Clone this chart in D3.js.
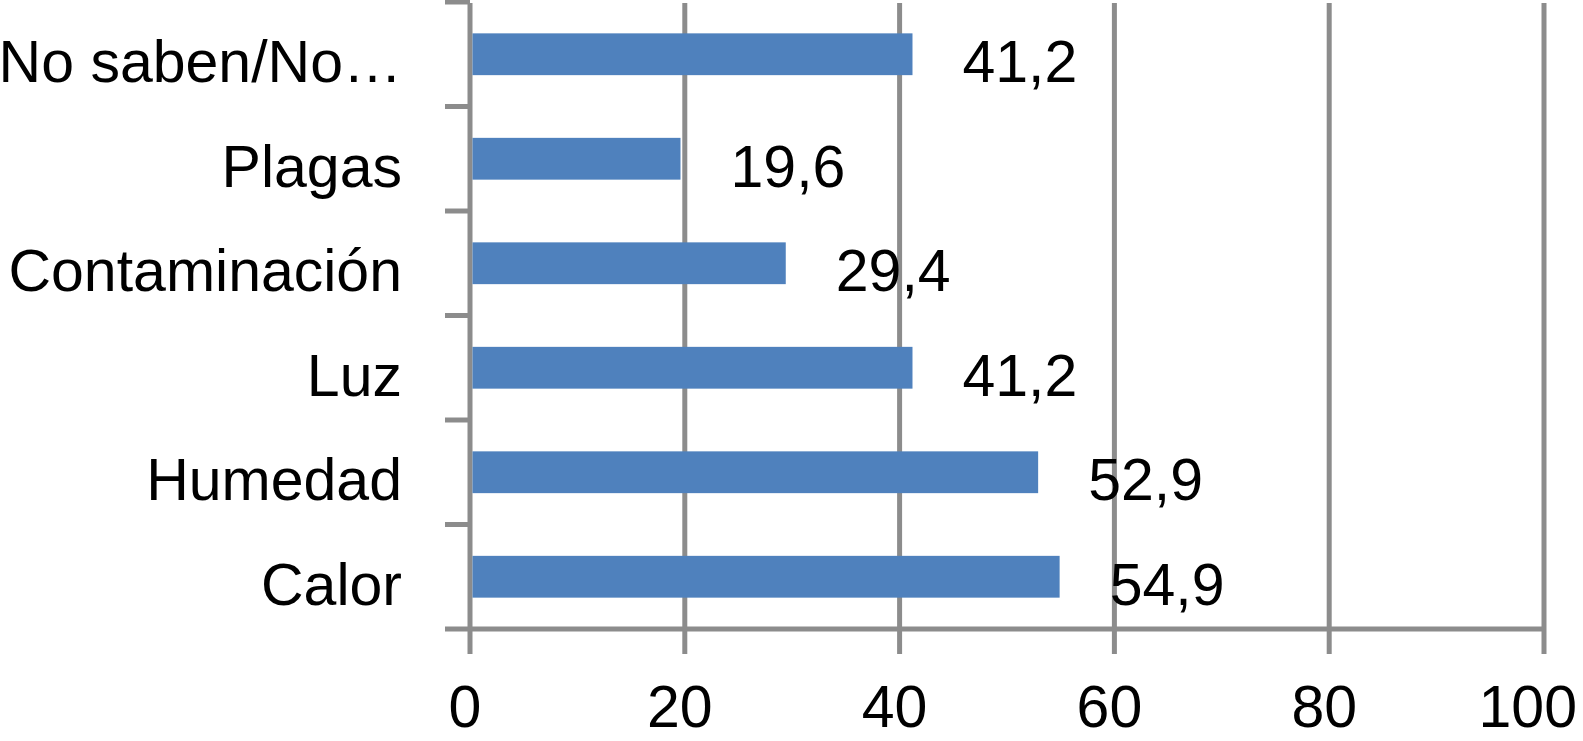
<!DOCTYPE html>
<html>
  <head>
    <meta charset="utf-8">
    <title>Bar chart</title>
    <script src="https://cdn.jsdelivr.net/npm/d3@7"></script>
    <style>
      body { margin: 0; background: #fff; }
      text { font-family: "Liberation Sans", Arial, Helvetica, sans-serif; fill: #000; }
    </style>
  </head>
  <body>
    <svg id="chart" width="1583" height="741"></svg>
    <script>
      // data, listed top to bottom as in the picture
      const categories = ["No saben/No…", "Plagas", "Contaminación", "Luz", "Humedad", "Calor"];
      const values = [41.2, 19.6, 29.4, 41.2, 52.9, 54.9];
      const xTicks = [0, 20, 40, 60, 80, 100];

      const width = 1583, height = 741;
      const margin = { top: 2, right: 39, bottom: 112, left: 470 };
      const gridColor = "#8c8c8c";
      const fontSize = 59;

      const svg = d3.select("#chart");

      const x = d3.scaleLinear()
        .domain([0, 100])
        .range([margin.left, width - margin.right]);

      const y = d3.scaleBand()
        .domain(categories)
        .range([margin.top, height - margin.bottom])
        .paddingInner(0.6)
        .paddingOuter(0.3);

      const yBottom = height - margin.bottom;

      // vertical gridlines + bottom ticks
      svg.append("g")
        .selectAll("line")
        .data(xTicks)
        .enter()
        .append("line")
        .attr("x1", d => x(d))
        .attr("x2", d => x(d))
        .attr("y1", margin.top + 1)
        .attr("y2", yBottom + 25)
        .attr("stroke", gridColor)
        .attr("stroke-width", 5);

      // category tick marks at band boundaries
      const bounds = categories.map(c => y(c) + y.bandwidth() / 2 - y.step() / 2);
      svg.append("g")
        .selectAll("line")
        .data(bounds)
        .enter()
        .append("line")
        .attr("x1", x(0) - 25)
        .attr("x2", x(0))
        .attr("y1", d => d)
        .attr("y2", d => d)
        .attr("stroke", gridColor)
        .attr("stroke-width", 5);

      // bottom axis line
      svg.append("line")
        .attr("x1", x(0) - 25)
        .attr("x2", x(100))
        .attr("y1", yBottom)
        .attr("y2", yBottom)
        .attr("stroke", gridColor)
        .attr("stroke-width", 5);

      // bars
      svg.append("g")
        .selectAll("rect")
        .data(categories)
        .enter()
        .append("rect")
        .attr("x", x(0) + 2.5)
        .attr("y", d => y(d))
        .attr("width", (d, i) => x(values[i]) - x(0) - 2.5)
        .attr("height", y.bandwidth())
        .attr("fill", "#4f81bd");

      // value labels
      svg.append("g")
        .selectAll("text")
        .data(categories)
        .enter()
        .append("text")
        .attr("x", (d, i) => x(values[i]) + 50)
        .attr("y", d => y(d) + y.bandwidth() / 2 + 28)
        .attr("font-size", fontSize)
        .text((d, i) => d3.format(".1f")(values[i]).replace(".", ","));

      // category labels
      svg.append("g")
        .selectAll("text")
        .data(categories)
        .enter()
        .append("text")
        .attr("x", x(0) - 68)
        .attr("y", d => y(d) + y.bandwidth() / 2 + 28)
        .attr("text-anchor", "end")
        .attr("font-size", fontSize)
        .text(d => d);

      // x tick labels
      svg.append("g")
        .selectAll("text")
        .data(xTicks)
        .enter()
        .append("text")
        .attr("x", d => x(d) - 5)
        .attr("y", yBottom + 98)
        .attr("text-anchor", "middle")
        .attr("font-size", fontSize)
        .text(d => d)
        .each(function () {
          // keep the last label inside the picture, as the original does
          const b = this.getBBox();
          if (b.x + b.width > width - 6) {
            d3.select(this).attr("x", +d3.select(this).attr("x") - (b.x + b.width - (width - 6)));
          }
        });
    </script>
  </body>
</html>
